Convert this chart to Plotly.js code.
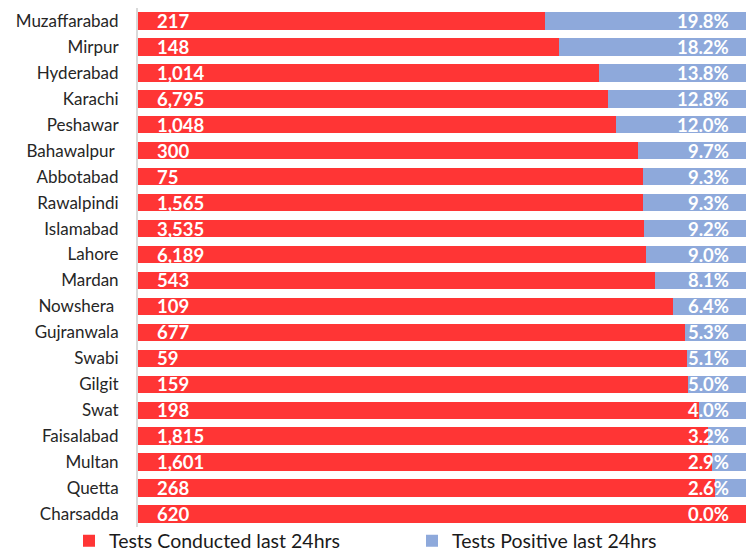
<!DOCTYPE html>
<html>
<head>
<meta charset="utf-8">
<script src="https://cdn.plot.ly/plotly-3.0.1.min.js"></script>
<style>html,body{margin:0;padding:0;background:#fff;}#chart{width:747px;height:551px;}</style>
</head>
<body>
<div id="chart"></div>
<script>
const cities = ["Muzaffarabad","Mirpur","Hyderabad","Karachi","Peshawar","Bahawalpur ","Abbotabad","Rawalpindi","Islamabad","Lahore","Mardan","Nowshera ","Gujranwala","Swabi","Gilgit","Swat","Faisalabad","Multan","Quetta","Charsadda"];
const testsConducted = [217,148,1014,6795,1048,300,75,1565,3535,6189,543,109,677,59,159,198,1815,1601,268,620];
const positivePct = [19.8,18.2,13.8,12.8,12.0,9.7,9.3,9.3,9.2,9.0,8.1,6.4,5.3,5.1,5.0,4.0,3.2,2.9,2.6,0.0];
const conductedShare = cities.map(() => 100);

const FONT = "Lato, 'Open Sans', sans-serif";
const RED = "#FF3535";
const BLUE = "#8EA9DB";

const traces = [
  {
    type: "bar", orientation: "h", name: "Tests Conducted last 24hrs",
    y: cities, x: conductedShare, legend: "legend",
    marker: {color: RED, line: {width: 0}},
    hoverinfo: "skip"
  },
  {
    type: "bar", orientation: "h", name: "Tests Positive last 24hrs",
    y: cities, x: positivePct, legend: "legend2",
    marker: {color: BLUE, line: {width: 0}},
    hoverinfo: "skip"
  }
];

const annotations = [];
cities.forEach((c, i) => {
  annotations.push({
    xref: "x", yref: "y", x: 50, y: c, xanchor: "left", yanchor: "middle",
    xshift: 17, showarrow: false,
    text: testsConducted[i].toLocaleString("en-US"),
    font: {family: FONT, size: 18.5, color: "#fff", weight: "bold"}
  });
  annotations.push({
    xref: "x", yref: "y", x: 100, y: c, xanchor: "right", yanchor: "middle",
    xshift: -15, showarrow: false,
    text: positivePct[i].toFixed(1) + "%",
    font: {family: FONT, size: 18.5, color: "#fff", weight: "bold"}
  });
});

const legendBase = {orientation: "h", xref: "container", yref: "container", y: 0.018, yanchor: "middle",
  xanchor: "left", font: {family: FONT, size: 19.5, color: "#1a1a1a"}, itemclick: false, bgcolor: "rgba(0,0,0,0)"};

const layout = {
  width: 747, height: 551,
  margin: {l: 138, r: 1, t: 8, b: 24, pad: 0, autoexpand: false},
  paper_bgcolor: "#fff", plot_bgcolor: "#fff",
  barmode: "stack", barnorm: "percent", bargap: 0.33,
  font: {family: FONT, size: 17, color: "#262626"},
  xaxis: {range: [50, 100], showgrid: false, zeroline: false, showticklabels: false, showline: false, fixedrange: true},
  yaxis: {autorange: "reversed", showline: true, linecolor: "#d9d9d9", linewidth: 2, ticks: "", ticklabelstandoff: 14,
          tickfont: {family: FONT, size: 17, color: "#262626"}, showgrid: false, zeroline: false},
  showlegend: true,
  legend: Object.assign({}, legendBase, {x: 69 / 747}),
  legend2: Object.assign({}, legendBase, {x: 412 / 747}),
  annotations: annotations
};

Plotly.newPlot("chart", traces, layout, {displayModeBar: false, staticPlot: true});
</script>
</body>
</html>
